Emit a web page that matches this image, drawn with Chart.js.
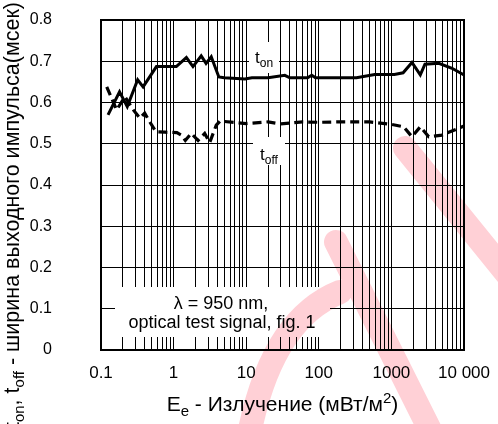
<!DOCTYPE html>
<html>
<head>
<meta charset="utf-8">
<script src="https://cdn.jsdelivr.net/npm/chart.js@4.4.1/dist/chart.umd.min.js"></script>
<style>
  html, body { margin: 0; padding: 0; background: #fff; }
</style>
</head>
<body>
<canvas id="myChart" width="498" height="424"></canvas>
<script>
// pulse width t_on / t_off vs irradiance

const tOnX = [0.125, 0.18, 0.23, 0.32, 0.38, 0.58, 1.09, 1.5, 1.85, 2.4, 2.8, 3.3, 4.2, 5, 9.6, 12, 20, 34, 40, 70, 80, 90, 210, 330, 590, 1100, 1450, 1920, 2500, 2900, 4500, 6840, 10000];
const tOnY = [0.57, 0.626, 0.59, 0.655, 0.638, 0.687, 0.687, 0.709, 0.687, 0.713, 0.695, 0.711, 0.662, 0.66, 0.657, 0.66, 0.66, 0.666, 0.66, 0.66, 0.666, 0.66, 0.66, 0.66, 0.668, 0.668, 0.672, 0.697, 0.667, 0.693, 0.695, 0.683, 0.667];

const tOffX = [0.12, 0.164, 0.214, 0.279, 0.344, 0.4, 0.47, 0.57, 0.76, 1.11, 1.28, 1.45, 1.75, 2.17, 2.68, 3.14, 3.87, 4.36, 10, 20, 30, 60, 100, 200, 500, 1000, 1480, 1920, 2500, 3270, 4980, 10000];
const tOffY = [0.638, 0.582, 0.614, 0.582, 0.562, 0.574, 0.553, 0.529, 0.528, 0.527, 0.521, 0.508, 0.525, 0.508, 0.525, 0.503, 0.545, 0.555, 0.549, 0.553, 0.548, 0.553, 0.552, 0.553, 0.553, 0.547, 0.541, 0.517, 0.541, 0.517, 0.521, 0.543];

const xTickValues = [0.1, 1, 10, 100, 1000, 10000];
const xTickLabels = ["0.1", "1", "10", "100", "1000", "10 000"];
const yTickValues = [0, 0.1, 0.2, 0.3, 0.4, 0.5, 0.6, 0.7, 0.8];
const yTickLabels = ["0", "0.1", "0.2", "0.3", "0.4", "0.5", "0.6", "0.7", "0.8"];

const FONT = "'Liberation Sans', Arial, Helvetica, sans-serif";

// log grid: 1..9 in every decade
const xGridValues = [];
xTickValues.slice(0, -1).forEach((d) => {
  for (let m = 1; m < 10; m++) xGridValues.push(Number((d * m).toPrecision(6)));
});
xGridValues.push(10000);

const toPoints = (xs, ys) => xs.map((x, i) => ({ x: x, y: ys[i] }));

const findLabel = (v) => {
  const i = xTickValues.findIndex((t) => Math.abs(v - t) / t < 1e-6);
  return i < 0 ? "" : xTickLabels[i];
};

// text with sub/superscripts, parts = [[text, kind]]
function runWidth(ctx, parts, size) {
  let w = 0;
  parts.forEach(([t, k]) => {
    ctx.font = (k ? Math.round(size * 0.7) : size) + "px " + FONT;
    w += ctx.measureText(t).width;
  });
  return w;
}
function drawRun(ctx, parts, x, y, size) {
  parts.forEach(([t, k]) => {
    ctx.font = (k ? Math.round(size * 0.7) : size) + "px " + FONT;
    const dy = k === "sub" ? size * 0.25 : k === "sup" ? -size * 0.4 : 0;
    ctx.fillText(t, x, y + dy);
    x += ctx.measureText(t).width;
  });
}

const extras = {
  id: "extras",
  afterDatasetsDraw(chart) {
    const ctx = chart.ctx;
    ctx.save();
    ctx.fillStyle = "#fff";
    ctx.fillRect(115, 287, 215, 50);
    ctx.fillRect(249, 42, 30, 31);
    ctx.fillRect(253, 137, 32, 28);
    ctx.fillStyle = "#000";
    ctx.textBaseline = "alphabetic";
    ctx.textAlign = "center";
    ctx.font = "18px " + FONT;
    ctx.fillText("\u03bb = 950 nm,", 221, 309);
    ctx.fillText("optical test signal, fig. 1", 222, 328);
    ctx.textAlign = "left";
    drawRun(ctx, [["t", ""], ["on", "sub"]], 255, 63, 17);
    drawRun(ctx, [["t", ""], ["off", "sub"]], 260, 160, 17);
    ctx.restore();
  },
  afterDraw(chart) {
    const ctx = chart.ctx;
    const a = chart.chartArea;
    ctx.save();
    // frame
    ctx.strokeStyle = "#000";
    ctx.lineWidth = 2;
    ctx.strokeRect(a.left, a.top, a.right - a.left, a.bottom - a.top);

    ctx.fillStyle = "#000";
    ctx.textBaseline = "alphabetic";
    ctx.textAlign = "left";
    // x title
    const xt = [["E", ""], ["e", "sub"], [" - Излучение (мВт/м", ""], ["2", "sup"], [")", ""]];
    const xw = runWidth(ctx, xt, 21);
    drawRun(ctx, xt, (a.left + a.right) / 2 - xw / 2, 411, 21);
    // y title, rotated, ends at the top edge
    const yt = [["t", ""], ["on", "sub"], [", t", ""], ["off", "sub"], [" - ширина выходного импульса(мсек)", ""]];
    const yw = runWidth(ctx, yt, 21.5);
    ctx.translate(19, 2);
    ctx.rotate(-Math.PI / 2);
    drawRun(ctx, yt, -yw, 0, 21.5);
    ctx.restore();

    // watermark
    ctx.save();
    ctx.globalCompositeOperation = "multiply";
    ctx.strokeStyle = "rgb(255,208,214)";
    ctx.lineWidth = 24;
    ctx.lineCap = "round";
    ctx.beginPath();
    ctx.moveTo(405, 148);
    ctx.lineTo(520, 290);
    ctx.moveTo(336, 242);
    ctx.lineTo(435, 440);
    ctx.moveTo(248, 440);
    ctx.quadraticCurveTo(270, 320, 340, 292);
    ctx.stroke();
    ctx.restore();
  },
};

new Chart("myChart", {
  type: "line",
  data: {
    datasets: [
      {
        label: "t_on",
        data: toPoints(tOnX, tOnY),
        borderColor: "#000",
        borderWidth: 3,
        pointRadius: 0,
        tension: 0,
        fill: false,
      },
      {
        label: "t_off",
        data: toPoints(tOffX, tOffY),
        borderColor: "#000",
        borderWidth: 3.2,
        borderDash: [9, 5],
        pointRadius: 0,
        tension: 0,
        fill: false,
      },
    ],
  },
  options: {
    responsive: false,
    animation: false,
    devicePixelRatio: 1,
    layout: { padding: { top: 20, right: 34, left: 0, bottom: 0 } },
    plugins: { legend: { display: false }, tooltip: { enabled: false } },
    scales: {
      x: {
        type: "logarithmic",
        min: 0.1,
        max: 10000,
        afterBuildTicks: (s) => {
          s.ticks = xGridValues.map((v) => ({ value: v }));
        },
        afterFit: (s) => {
          s.height = 74;
          s.paddingLeft = 0;
          s.paddingRight = 0;
        },
        grid: { color: "#000", lineWidth: 1, drawTicks: false },
        border: { display: false },
        ticks: {
          autoSkip: false,
          maxRotation: 0,
          padding: 13,
          color: "#000",
          font: { family: FONT, size: 17 },
          callback: (v) => findLabel(v),
        },
      },
      y: {
        min: 0,
        max: 0.8,
        afterBuildTicks: (s) => {
          s.ticks = yTickValues.map((v) => ({ value: v }));
        },
        afterFit: (s) => {
          s.width = 101;
          s.paddingTop = 0;
          s.paddingBottom = 0;
        },
        grid: { color: "#000", lineWidth: 1, drawTicks: false },
        border: { display: false },
        ticks: {
          padding: 49,
          color: "#000",
          font: { family: FONT, size: 16 },
          callback: (v, i) => yTickLabels[i],
        },
      },
    },
  },
  plugins: [extras],
});
</script>
</body>
</html>
